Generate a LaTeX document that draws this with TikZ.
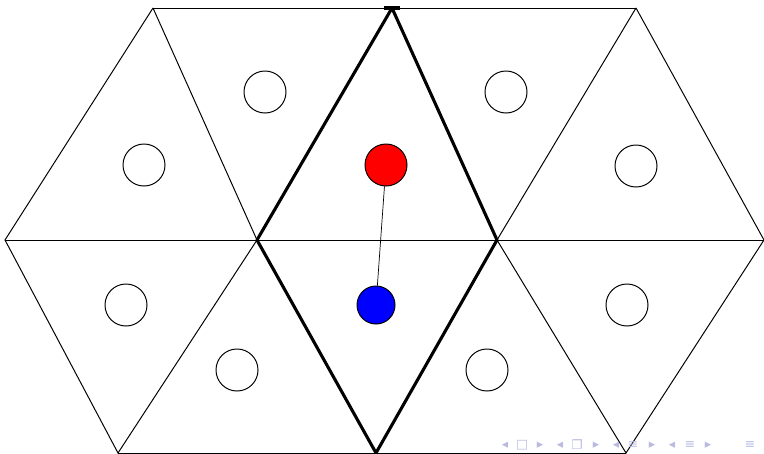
\documentclass[tikz,border=0pt]{standalone}
\usepackage{fontspec}
\newfontfamily\symfont{DejaVu Sans}
\usetikzlibrary{positioning}
\definecolor{navgray}{RGB}{185,185,225}
\tikzset{
    % Lines
    edge/.style={line width=0.7pt, black},
    rhomb/.style={line width=2.2pt, black, line join=round},
    % Sites
    site/.style={circle, draw, line width=0.7pt, minimum size=1.05cm, inner sep=0pt},
    siteRed/.style={site, fill=red},
    siteBlue/.style={site, fill=blue, minimum size=0.95cm},
    bond/.style={line width=0.5pt, black},
    nav/.style={font=\symfont\small, text=navgray, inner sep=0pt}
}
\begin{document}
\begin{tikzpicture}[x=0.025cm, y=-0.025cm]
\useasboundingbox (0,0) rectangle (764,454);

% lattice vertices
\coordinate (t1) at (153,8);
\coordinate (t2) at (392,8);
\coordinate (t3) at (636,8);
\coordinate (m1) at (5,240);
\coordinate (m2) at (257,240);
\coordinate (m3) at (497,240);
\coordinate (m4) at (764,240);
\coordinate (b1) at (118,453);
\coordinate (b2) at (376,453);
\coordinate (b3) at (626,453);

% triangles
\draw[edge] (t1) -- (t3);
\draw[edge] (m1) -- (m4);
\draw[edge] (b1) -- (b3);
\draw[edge] (t1) -- (m1) -- (b1) -- (m2) -- (t1);
\draw[edge] (t2) -- (m2) -- (b2) -- (m3) -- (t2);
\draw[edge] (t3) -- (m3) -- (b3) -- (m4) -- (t3);

% unit cell
\draw[rhomb] (t2) -- (m2) -- (b2) -- (m3) -- cycle;
\draw[rhomb] ([xshift=-6]t2) -- ([xshift=6]t2);

% sites
\node[site] (s1) at (144,165) {};
\node[site] (s2) at (265,92) {};
\node[site] (s3) at (506,92) {};
\node[site] (s4) at (636,166) {};
\node[site] (s5) at (126,305) {};
\node[site] (s6) at (237,370) {};
\node[site] (s7) at (487,370) {};
\node[site] (s8) at (627,305) {};
\node[siteRed] (red) at (386,165) {};
\node[siteBlue] (blue) at (376,305) {};
\draw[bond] (red) -- (blue);

% navigation symbols
\foreach \x/\sym [count=\i] in {505/◂, 522/□, 540/▸, 560/◂, 577/❐, 596/▸,
    616/◂, 633/≡, 652/▸, 672/◂, 690/≡, 708/▸, 750/≡}
  \node[nav] (nav\i) at (\x,445) {\sym};
\end{tikzpicture}
\end{document}
